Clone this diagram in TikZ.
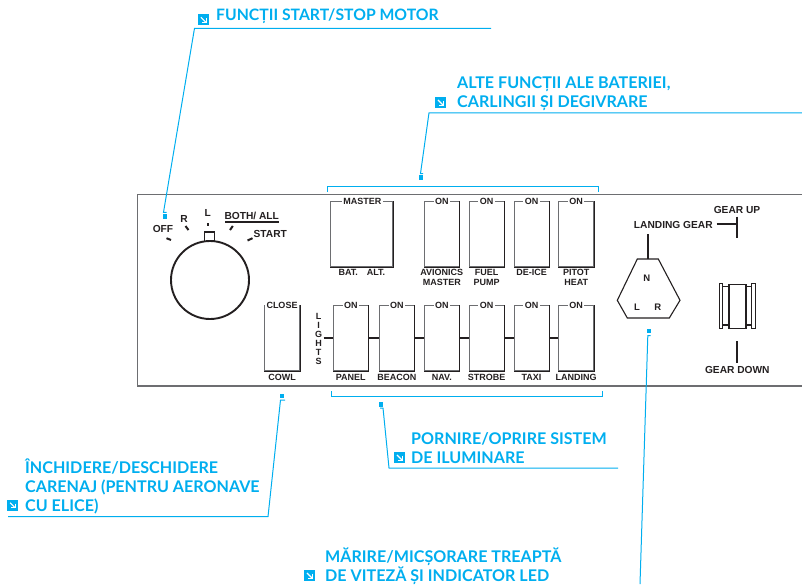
\documentclass[tikz,border=0pt]{standalone}
\usepackage{fontspec}
\setmainfont{Liberation Sans}
\newfontfamily\calloutfont{Lato}[UprightFont=* Bold]
\usetikzlibrary{calc}
\definecolor{callblue}{HTML}{00AEEF}
\definecolor{ink}{HTML}{231F20}
\definecolor{edgegrey}{HTML}{6D6E71}
\tikzset{
  x=1pt,y=-1pt,
  panellab/.style={font=\fontsize{9}{10.7}\selectfont\bfseries,text=ink,inner sep=0pt,align=center},
  biglab/.style={panellab,font=\fontsize{10.2}{12}\selectfont\bfseries},
  steplab/.style={panellab,fill=white,inner xsep=1.5pt,inner ysep=0.5pt},
  swbox/.style={draw=edgegrey,line width=1pt,fill=white,minimum width=35pt,minimum height=65pt,inner sep=0pt},
  masterbox/.style={swbox,minimum width=62pt},
  swedge/.style={ink,line width=0.8pt},
  link/.style={ink,line width=1.7pt},
  gearline/.style={ink,line width=1.2pt},
  leader/.style={callblue,line width=1pt},
  bluedot/.style={fill=callblue,draw=none,minimum size=4.5pt,inner sep=0pt},
  calltext/.style={font=\calloutfont\fontsize{16.1}{19}\selectfont,text=callblue,inner sep=0pt,anchor=west,align=left},
  calltextone/.style={calltext,font=\calloutfont\fontsize{15.75}{19}\selectfont},
  iconbox/.style={fill=callblue,draw=none,minimum size=11pt,inner sep=0pt,
    path picture={
      \draw[white,line width=1.1pt] ($(path picture bounding box.center)+(-2.6,-2.6)$) -- ($(path picture bounding box.center)+(2.4,2.4)$);
      \draw[white,line width=1.1pt] ($(path picture bounding box.center)+(2.6,-1.6)$) -- ($(path picture bounding box.center)+(2.6,2.6)$) -- ($(path picture bounding box.center)+(-1.6,2.6)$);
    }},
}
\begin{document}
\begin{tikzpicture}
\useasboundingbox (0,0) rectangle (802,584);
% panel
\draw[edgegrey,line width=1.1pt] (802,194.5) -- (137.5,194.5) -- (137.5,386) -- (802,386);
% rotary switch
\draw[ink,line width=1.7pt,fill=white] (204.5,241.5) rectangle (214.5,232);
\node[draw=ink,line width=1.9pt,circle,minimum size=78pt,inner sep=0pt] (knob) at (210,280) {};
\draw[ink,line width=2pt] (166.5,238.2) -- (171,240);
\draw[ink,line width=2pt] (185.5,226) -- (188.5,230);
\draw[ink,line width=2pt] (208,223) -- (208,225.5);
\draw[ink,line width=2pt] (232.8,226) -- (230,230);
\draw[ink,line width=2pt] (252.5,238.2) -- (247.5,240.5);
\node[biglab] (off) at (163,229) {OFF};
\node[biglab] (rr) at (184,218.7) {R};
\node[biglab] (ll) at (207.7,213.3) {L};
\node[biglab] (both) at (251.7,216) {BOTH/ ALL};
\draw[ink,line width=1.3pt] (225,222) -- (279,222);
\node[biglab] (start) at (270.3,234) {START};
% cowl
\node[swbox] (cowl) at (282,338.2) {};
\draw[swedge] (cowl.north east) -- (cowl.south east) -- (cowl.south west);
\node[steplab] (cowltop) at (282,305.5) {CLOSE};
\node[panellab] (cowllab) at (282,377.5) {COWL};
% lights label
\node[panellab,font=\fontsize{9}{9}\selectfont\bfseries,inner xsep=1.5pt] (lights) at (318.5,339) {L\\I\\G\\H\\T\\S};
% top row
\node[masterbox] (master) at (361.7,234.2) {};
\draw[swedge] (master.north east) -- (master.south east) -- (master.south west);
\node[steplab] at (362.3,201.5) {MASTER};
\node[panellab] (bat) at (348.3,272.7) {BAT.};
\node[panellab] (alt) at (376,272.7) {ALT.};
\foreach \nm/\cx/\lab in {avionics/441.8/{AVIONICS\\MASTER},fuel/486.5/{FUEL\\PUMP},deice/531.5/{DE-ICE},pitot/576.2/{PITOT\\HEAT}}{
  \node[swbox] (\nm) at (\cx,234.2) {};
  \draw[swedge] (\nm.north east) -- (\nm.south east) -- (\nm.south west);
  \node[steplab] at (\cx,201.5) {ON};
  \node[panellab,anchor=north] at (\cx,268.8) {\lab};
}
% bottom row
\foreach \nm/\cx/\lab in {panelsw/350.8/PANEL,beacon/396.8/BEACON,nav/441.8/NAV.,strobe/486.5/STROBE,taxi/531.5/TAXI,landing/576.2/LANDING}{
  \node[swbox] (\nm) at (\cx,338.2) {};
  \draw[swedge] (\nm.north east) -- (\nm.south east) -- (\nm.south west);
  \node[steplab] at (\cx,305.5) {ON};
  \node[panellab] at (\cx,377.5) {\lab};
}
\draw[link] (lights.east |- panelsw.west) -- (panelsw.west);
\draw[link] (panelsw) -- (beacon);
\draw[link] (beacon) -- (nav);
\draw[link] (nav) -- (strobe);
\draw[link] (strobe) -- (taxi);
\draw[link] (taxi) -- (landing);
% landing gear
\node[biglab] (lgear) at (673.3,224.7) {LANDING GEAR};
\node[biglab] (gup) at (737,210) {GEAR UP};
\coordinate (gupjoin) at (737,224);
\coordinate (guptop) at (737,216.7);
\coordinate (gupbot) at (737,237.7);
\draw[link] (716.7,224) -- (gupjoin);
\draw[link] (guptop) -- (gupbot);
\coordinate (stemtop) at (648,234);
\coordinate (stembot) at (648,259);
\draw[link] (stemtop) -- (stembot);
\draw[ink,line width=1.1pt] (637.3,259) -- (658.3,259) -- (680,300.3) -- (669.3,318) -- (627.3,318) -- (617.3,300.3) -- cycle;
\node[biglab,font=\fontsize{9.5}{11}\selectfont\bfseries] (nn) at (646.7,278.7) {N};
\node[biglab,font=\fontsize{9.5}{11}\selectfont\bfseries] (lll) at (637,307.7) {L};
\node[biglab,font=\fontsize{9.5}{11}\selectfont\bfseries] (rrr) at (657.7,307.7) {R};
% gear handle
\draw[gearline] (719.5,283.8) rectangle (722.8,328.3);
\draw[gearline] (751.8,283.8) rectangle (755.2,328.3);
\draw[gearline] (722.8,286.8) -- (729,286.8) (722.8,325) -- (729,325);
\draw[gearline] (746,286.8) -- (751.8,286.8) (746,325) -- (751.8,325);
\draw[gearline] (729,284.5) rectangle (746,328.3);
\coordinate (gdtop) at (737,341);
\coordinate (gdbot) at (737,362.7);
\draw[link] (gdtop) -- (gdbot);
\node[biglab] (gdown) at (737.3,369.5) {GEAR DOWN};
% brackets
\draw[leader] (327.5,191.5) -- (327.5,186.5) -- (598.3,186.5) -- (598.3,191.5);
\draw[leader] (331.7,391) -- (331.7,396) -- (602.3,396) -- (602.3,391);
% callout 1
\node[bluedot] (d1) at (165,216.7) {};
\node[iconbox] (i1) at (203.5,19.8) {};
\node[calltextone] (t1) at (216,16) {FUNCȚII START/STOP MOTOR};
\draw[leader] (491,28.3) -- (194.5,28.3) -- (163.5,212.3) -- (166.5,212.3);
% callout 2
\node[bluedot] (d2) at (421,177.3) {};
\node[iconbox] (i2) at (440.5,102.5) {};
\node[calltext] (t2) at (457,93.8) {ALTE FUNCȚII ALE BATERIEI,\\CARLINGII ȘI DEGIVRARE};
\draw[leader] (802,112.8) -- (429,112.8) -- (420.5,173.5) -- (423,173.5);
% callout 3
\node[bluedot] (d3) at (381,404.3) {};
\node[iconbox] (i3) at (399.5,457.5) {};
\node[calltext] (t3) at (411,448.3) {PORNIRE/OPRIRE SISTEM\\DE ILUMINARE};
\draw[leader] (618,468) -- (389,468) -- (383,408) -- (380,408);
% callout 4
\node[bluedot] (d4) at (282,396) {};
\node[iconbox] (i4) at (12.7,505.3) {};
\node[calltext] (t4) at (25,486.8) {ÎNCHIDERE/DESCHIDERE\\CARENAJ (PENTRU AERONAVE\\CU ELICE)};
\draw[leader] (8,516.7) -- (268,516.7) -- (280.5,400) -- (285,400);
% callout 5
\node[bluedot] (d5) at (649,331) {};
\node[iconbox] (i5) at (309.5,575.5) {};
\node[calltext] (t5) at (325,566.2) {MĂRIRE/MICȘORARE TREAPTĂ\\DE VITEZĂ ȘI INDICATOR LED};
\draw[leader] (640,584) -- (647.8,335.7) -- (650.5,335.7);
\end{tikzpicture}
\end{document}
